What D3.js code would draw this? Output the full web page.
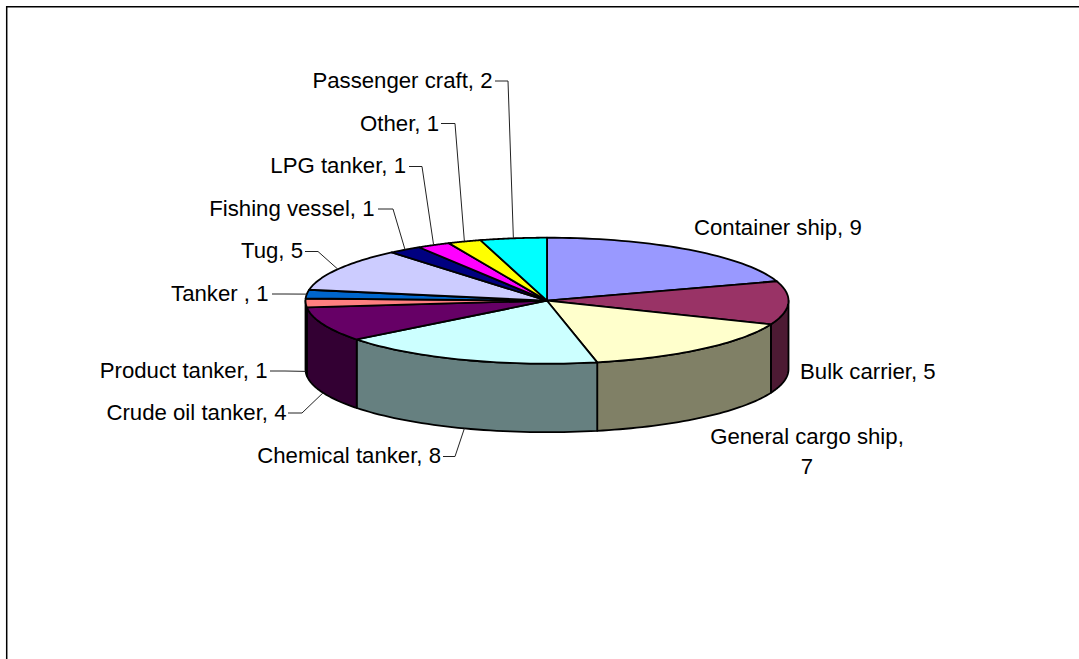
<!DOCTYPE html>
<html><head><meta charset="utf-8">
<script src="https://cdn.jsdelivr.net/npm/d3@7"></script>
<style>html,body{margin:0;padding:0;background:#fff;overflow:hidden}svg{display:block}text{font-family:"Liberation Sans",Arial,sans-serif;font-size:22.2px;fill:#000}</style>
</head><body><svg id="c" width="1079" height="659"></svg>
<script>
const categories = ["Container ship","Bulk carrier","General cargo ship","Chemical tanker","Crude oil tanker","Product tanker","Tanker ","Tug","Fishing vessel","LPG tanker","Other","Passenger craft"];
const values = [9,5,7,8,4,1,1,5,1,1,1,2];
const colors = ["#9999FF","#993366","#FFFFCC","#CCFFFF","#660066","#FF8080","#0066CC","#CCCCFF","#000080","#FF00FF","#FFFF00","#00FFFF"];

const labelLayout = [
 {x:694,y:235,anchor:"start"},
 {x:800,y:379,anchor:"start"},
 {x:807,y:444,anchor:"middle",wrap:true},
 {x:441,y:463,anchor:"end",lead:[443,456.5],elbow:[455,456.5],side:true},
 {x:286.5,y:420,anchor:"end",lead:[288,413],elbow:[302,413],side:true},
 {x:267.5,y:378,anchor:"end",lead:[270,371],elbow:[285,371],side:true},
 {x:268.5,y:300.5,anchor:"end",lead:[272,294],elbow:[285,294]},
 {x:303,y:258,anchor:"end",lead:[305,251.5],elbow:[318,251.5]},
 {x:374.5,y:216,anchor:"end",lead:[378,209],elbow:[393,209]},
 {x:406,y:173,anchor:"end",lead:[409,166.5],elbow:[422,166.5]},
 {x:439,y:130.5,anchor:"end",lead:[441,123.5],elbow:[455,123.5]},
 {x:492.5,y:88,anchor:"end",lead:[495,81],elbow:[508,81]}
];
const cx=547, cy=300.7, rx=241.5, ry=63, depth=68.5;
const svg=d3.select("#c");
const px=a=>cx+rx*Math.sin(a), py=a=>cy-ry*Math.cos(a);
const arcs=d3.pie().sort(null).value(d=>d)(values);
const line=d3.line();
const sample=(a0,a1)=>d3.range(0,41).map(i=>{const a=a0+(a1-a0)*i/40;return [px(a),py(a)];});
const halve=c=>{const r=d3.rgb(c);return d3.rgb(r.r/2,r.g/2,r.b/2).formatHex();};

// chart frame: top and left edges only reach the picture
svg.append("path").attr("d",line([[6.7,659],[6.7,6.7],[1079,6.7]])).attr("fill","none").attr("stroke","#000").attr("stroke-width",1.5);

// side walls (front half only)
const H=Math.PI/2, P3=3*Math.PI/2;
arcs.forEach((d,i)=>{
  const a0=Math.max(d.startAngle,H), a1=Math.min(d.endAngle,P3);
  if(a1<=a0) return;
  const top=sample(a0,a1), bot=top.slice().reverse().map(p=>[p[0],p[1]+depth]);
  svg.append("path").attr("d",line(top.concat(bot))+"Z")
    .attr("fill",halve(colors[i]))
    .attr("stroke","#000").attr("stroke-width",1.8).attr("stroke-linejoin","round");
});
// top slices
arcs.forEach((d,i)=>{
  svg.append("path").attr("d",line([[cx,cy]].concat(sample(d.startAngle,d.endAngle)))+"Z")
    .attr("fill",colors[i]).attr("stroke","#000").attr("stroke-width",1.8).attr("stroke-linejoin","round");
});
// leaders
arcs.forEach((d,i)=>{
  const L=labelLayout[i]; if(!L.lead) return;
  const m=(d.startAngle+d.endAngle)/2;
  const p=[px(m),py(m)+(L.side?depth:0)];
  svg.append("path").attr("d",line([L.lead,L.elbow,p])).attr("fill","none").attr("stroke","#222").attr("stroke-width",1);
});
// labels
categories.forEach((c,i)=>{
  const L=labelLayout[i];
  const t=svg.append("text").attr("x",L.x).attr("y",L.y).attr("text-anchor",L.anchor);
  if(L.wrap){
    t.append("tspan").attr("x",L.x).text(c+",");
    t.append("tspan").attr("x",L.x).attr("dy",30).text(values[i]);
  } else t.text(c+", "+values[i]);
});
</script></body></html>
